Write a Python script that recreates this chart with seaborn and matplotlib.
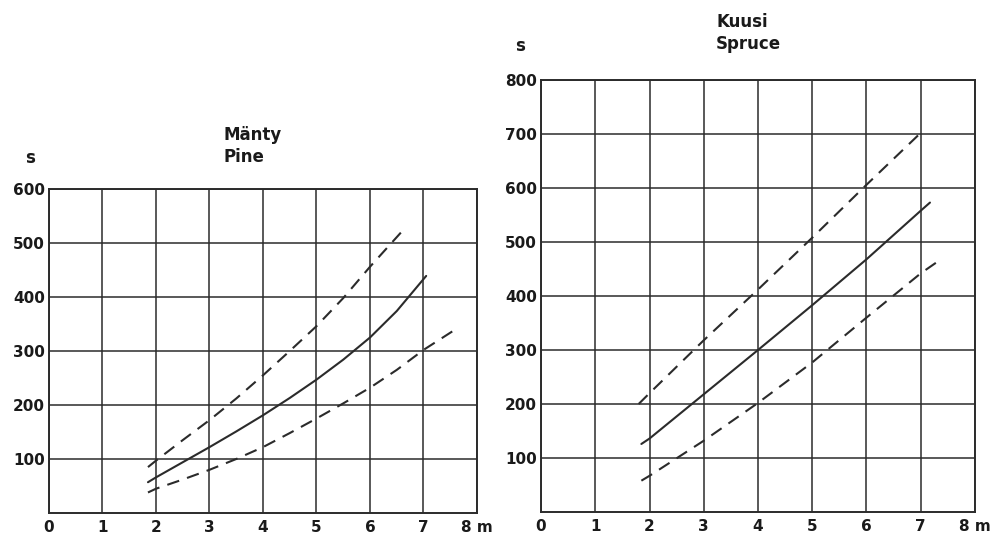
import matplotlib
matplotlib.use("Agg")
import matplotlib.pyplot as plt
import seaborn as sns

# Pine (Mänty) curves
pine_mid_x = [1.85, 2.0, 2.5, 3.0, 3.5, 4.0, 4.5, 5.0, 5.5, 6.0, 6.5, 7.05]
pine_mid_y = [57, 66, 94, 122, 151, 181, 213, 247, 284, 325, 374, 439]
pine_hi_x = [1.85, 2.0, 2.5, 3.0, 3.5, 4.0, 4.5, 5.0, 5.5, 6.0, 6.62]
pine_hi_y = [85, 97, 135, 172, 212, 255, 300, 346, 398, 456, 524]
pine_lo_x = [1.85, 2.0, 2.5, 3.0, 3.5, 4.0, 4.5, 5.0, 5.5, 6.0, 6.5, 7.0, 7.55]
pine_lo_y = [38, 45, 62, 80, 100, 122, 148, 175, 203, 232, 265, 302, 337]

# Spruce (Kuusi) curves
spruce_mid_x = [1.85, 2.0, 3.0, 4.0, 5.0, 6.0, 7.0, 7.17]
spruce_mid_y = [126, 136, 218, 300, 383, 468, 558, 573]
spruce_hi_x = [1.8, 2.0, 3.0, 4.0, 5.0, 6.0, 7.05]
spruce_hi_y = [200, 220, 318, 412, 508, 606, 707]
spruce_lo_x = [1.85, 2.0, 3.0, 4.0, 5.0, 6.0, 7.0, 7.33]
spruce_lo_y = [58, 67, 132, 202, 277, 360, 442, 465]

x_ticks = [0, 1, 2, 3, 4, 5, 6, 7, 8]
x_labels = ["0", "1", "2", "3", "4", "5", "6", "7", "8 m"]
pine_yticks = [100, 200, 300, 400, 500, 600]
spruce_yticks = [100, 200, 300, 400, 500, 600, 700, 800]

sns.set_style("white")
plt.rcParams["font.family"] = ["DejaVu Sans"]
ink = "#2b2b2b"

W, H = 995, 537
fig = plt.figure(figsize=(W / 100, H / 100), dpi=100)

def box(l, t, r, b):
    return [l / W, 1 - b / H, (r - l) / W, (b - t) / H]

ax1 = fig.add_axes(box(49, 189, 477, 513))
ax2 = fig.add_axes(box(541, 80, 975, 512))

def style(ax, ymax, yticks):
    ax.set_xlim(0, 8)
    ax.set_ylim(0, ymax)
    ax.set_xticks(x_ticks)
    ax.set_xticklabels(x_labels)
    ax.set_yticks(yticks)
    ax.set_yticklabels([str(v) for v in yticks])
    ax.grid(True, color=ink, linewidth=1.1)
    ax.set_axisbelow(True)
    for s in ax.spines.values():
        s.set_visible(True)
        s.set_color(ink)
        s.set_linewidth(1.4)
    ax.tick_params(length=0, labelsize=11, labelcolor="#1a1a1a")
    ax.tick_params(axis="x", pad=5)
    ax.tick_params(axis="y", pad=3)
    for lab in ax.get_xticklabels() + ax.get_yticklabels():
        lab.set_fontweight("bold")
    ax.set_xlabel("")
    ax.set_ylabel("")

dash = (6, 4)
sns.lineplot(x=pine_mid_x, y=pine_mid_y, ax=ax1, color=ink, linewidth=1.5, sort=False)
sns.lineplot(x=pine_hi_x, y=pine_hi_y, ax=ax1, color=ink, linewidth=1.5, sort=False).lines[-1].set_dashes(dash)
sns.lineplot(x=pine_lo_x, y=pine_lo_y, ax=ax1, color=ink, linewidth=1.5, sort=False).lines[-1].set_dashes(dash)
style(ax1, 600, pine_yticks)

sns.lineplot(x=spruce_mid_x, y=spruce_mid_y, ax=ax2, color=ink, linewidth=1.5, sort=False)
sns.lineplot(x=spruce_hi_x, y=spruce_hi_y, ax=ax2, color=ink, linewidth=1.5, sort=False).lines[-1].set_dashes(dash)
sns.lineplot(x=spruce_lo_x, y=spruce_lo_y, ax=ax2, color=ink, linewidth=1.5, sort=False).lines[-1].set_dashes(dash)
style(ax2, 800, spruce_yticks)

tkw = dict(fontsize=12, fontweight="bold", color="#1a1a1a", va="center")
fig.text(224 / W, 1 - 135 / H, "Mänty", ha="left", **tkw)
fig.text(224 / W, 1 - 157 / H, "Pine", ha="left", **tkw)
fig.text(30 / W, 1 - 158 / H, "s", ha="center", **tkw)
fig.text(716 / W, 1 - 22 / H, "Kuusi", ha="left", **tkw)
fig.text(716 / W, 1 - 44 / H, "Spruce", ha="left", **tkw)
fig.text(520 / W, 1 - 46 / H, "s", ha="center", **tkw)

fig.savefig("out.png", dpi=100, facecolor="white")
